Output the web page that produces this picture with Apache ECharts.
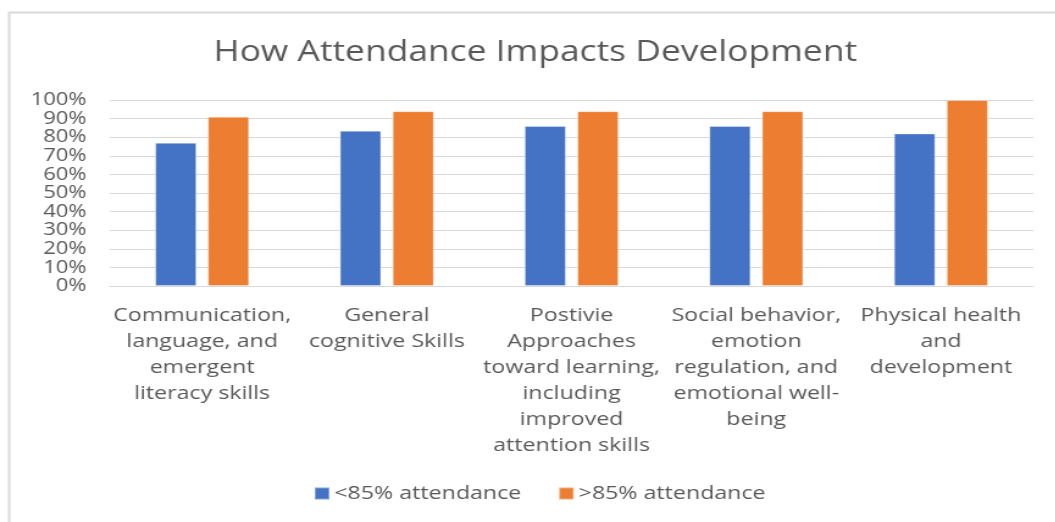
<!DOCTYPE html>
<html>
<head>
<meta charset="utf-8">
<script src="https://cdn.jsdelivr.net/npm/echarts@6/dist/echarts.min.js"></script>
<style>
html,body{margin:0;padding:0;background:#fff;overflow:hidden;}
/* the source picture is stretched sideways, so the chart is drawn narrower and widened */
#chart{width:865px;height:522px;transform:scaleX(1.22);transform-origin:0 0;}
</style>
</head>
<body>
<div id="chart"></div>
<script>
var categories = [
	'Communication,\nlanguage, and\nemergent\nliteracy skills',
	'General\ncognitive Skills',
	'Postivie\nApproaches\ntoward learning,\nincluding\nimproved\nattention skills',
	'Social behavior,\nemotion\nregulation, and\nemotional well-\nbeing',
	'Physical health\nand\ndevelopment'
];
var lowAttendance = [77, 83.5, 86, 86, 82];
var highAttendance = [91, 94, 94, 94, 100];
var seriesNames = ['<85% attendance', '>85% attendance'];

var font = '"Open Sans", sans-serif';
var txt = '#595959';

var chart = echarts.init(document.getElementById('chart'));
chart.setOption({
	animation: false,
	color: ['#4472C4', '#ED7D31'],
	title: {
		text: 'How Attendance Impacts Development',
		left: 170,
		top: 33,
		textStyle: {fontFamily: font, fontSize: 29, fontWeight: 'normal', color: txt}
	},
	legend: {
		bottom: 14,
		left: 252,
		itemWidth: 12,
		itemHeight: 12,
		itemGap: 30,
		icon: 'rect',
		textStyle: {fontFamily: font, fontSize: 19, color: txt, padding: [0, 0, 0, -1]},
		data: seriesNames
	},
	grid: {left: 90, right: 18, top: 100, bottom: 236},
	xAxis: {
		type: 'category',
		data: categories,
		axisTick: {show: false},
		axisLine: {lineStyle: {color: '#d9d9d9'}},
		axisLabel: {interval: 0, margin: 17, fontFamily: font, fontSize: 19, lineHeight: 26, color: txt}
	},
	yAxis: {
		type: 'value',
		min: 0,
		max: 100,
		interval: 10,
		axisLine: {show: false},
		axisTick: {show: false},
		splitLine: {lineStyle: {color: '#d9d9d9'}},
		axisLabel: {formatter: '{value}%', margin: 19, fontFamily: font, fontSize: 18, color: txt}
	},
	series: [{
		name: seriesNames[0],
		type: 'bar',
		barWidth: 34,
		barGap: '27%',
		itemStyle: {borderColor: 'rgba(255,255,255,0.35)', borderWidth: 1},
		data: lowAttendance
	}, {
		name: seriesNames[1],
		type: 'bar',
		barWidth: 34,
		barGap: '27%',
		itemStyle: {borderColor: 'rgba(255,255,255,0.35)', borderWidth: 1},
		data: highAttendance
	}],
	graphic: [{
		type: 'rect',
		left: 5,
		top: 10,
		shape: {width: 900, height: 600},
		style: {fill: 'none', stroke: '#d9d9d9', lineWidth: 2},
		silent: true
	}]
});
</script>
</body>
</html>
